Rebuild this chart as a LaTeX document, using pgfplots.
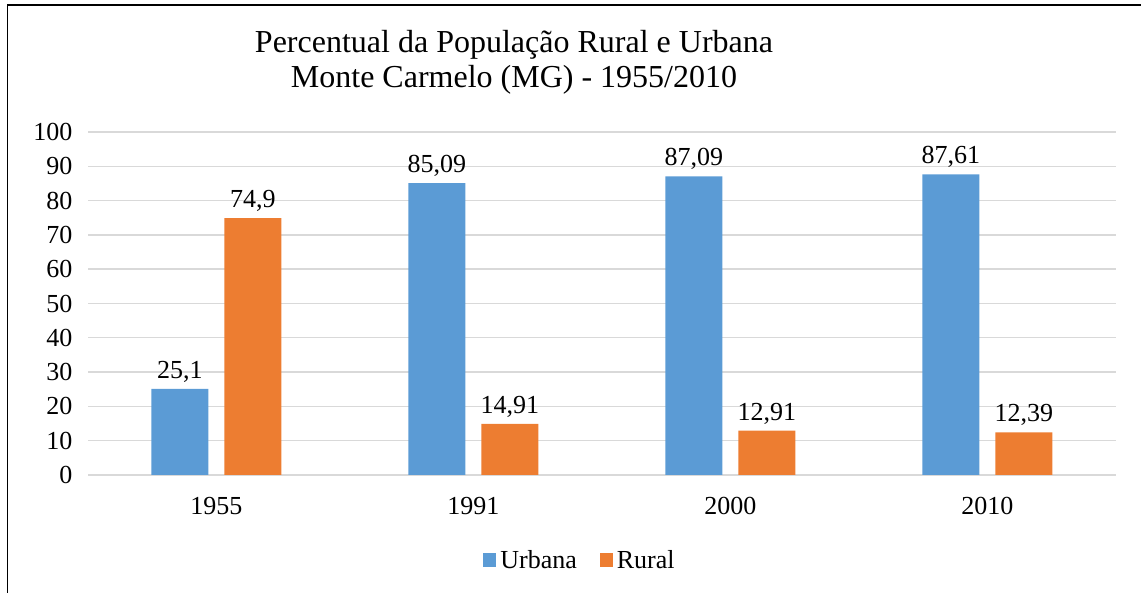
\documentclass[border=0pt]{standalone}
\usepackage{fontspec}
\setmainfont{Liberation Serif}
\usepackage{pgfplots}
\pgfplotsset{compat=1.18}
\definecolor{urb}{HTML}{5B9BD5}
\definecolor{rur}{HTML}{ED7D31}
\definecolor{grd}{HTML}{D9D9D9}
\begin{document}
\begin{tikzpicture}
\useasboundingbox (0pt,0pt) rectangle (1141pt,593pt);
\draw[line width=1.6pt] (7.5pt,-5pt) -- (7.5pt,588pt) -- (1150pt,588pt);
\node[font=\fontsize{32}{35}\selectfont, anchor=base, inner sep=0pt] at (514pt,540pt) {Percentual da População Rural e Urbana};
\node[font=\fontsize{32}{35}\selectfont, anchor=base, inner sep=0pt] at (514pt,505pt) {Monte Carmelo (MG) - 1955/2010};
\begin{axis}[
  at={(88pt,118pt)}, anchor=south west,
  width=1028pt, height=343pt, scale only axis,
  xmin=-0.5, xmax=3.5, ymin=0, ymax=100,
  xtick={0,1,2,3}, xticklabels={1955,1991,2000,2010},
  ytick={0,10,...,100},
  ymajorgrids, grid style={grd, line width=1.4pt},
  axis line style={draw=none},
  major tick length=0pt,
  tick label style={font=\fontsize{26}{30}\selectfont},
  /pgf/number format/assume math mode=true,
  yticklabel style={anchor=east, xshift=-12pt},
  xticklabel style={anchor=base, yshift=-40pt},
  ybar=16pt, bar width=57pt,
  nodes near coords={\pgfmathprintnumber[use comma,precision=2]{\pgfplotspointmeta}},
  nodes near coords style={font=\fontsize{26}{30}\selectfont, anchor=base, yshift=10.5pt, text=black},
  legend columns=2,
  legend image code/.code={\fill[#1] (0pt,-7pt) rectangle (13pt,7pt);},
  legend style={at={(axis description cs:0.4796,-0.2478)}, anchor=center, draw=none,
    font=\fontsize{26}{30}\selectfont, nodes={inner xsep=4pt},
    /tikz/every even column/.append style={column sep=19pt}},
]
\addplot[fill=urb, draw=none] coordinates {(0,25.1) (1,85.09) (2,87.09) (3,87.61)};
\addplot[fill=rur, draw=none] coordinates {(0,74.9) (1,14.91) (2,12.91) (3,12.39)};
\legend{Urbana, Rural}
\end{axis}
\end{tikzpicture}
\end{document}
